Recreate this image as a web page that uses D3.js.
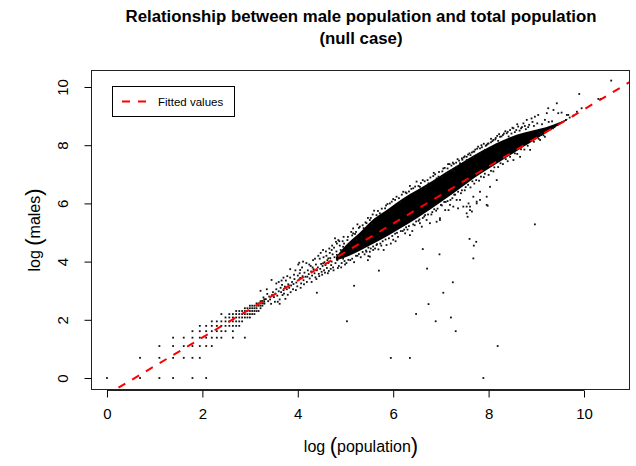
<!DOCTYPE html>
<html>
<head>
<meta charset="utf-8">
<script src="https://cdn.jsdelivr.net/npm/d3@7"></script>
<style>
  body { margin: 0; background: #fff; }
  text { font-family: "Liberation Sans", Arial, Helvetica, sans-serif; }
</style>
</head>
<body>
<div id="chart"></div>
<script>
// small places, read as whole counts: [population, males]
var smallCounts = [
  [1,1],[2,1],[2,2],[3,1],[3,2],[3,3],[4,1],[4,2],[4,3],[4,4],[5,2],[5,3],[5,4],
  [6,1],[6,2],[6,3],[6,4],[6,5],[7,2],[7,3],[7,4],[7,5],[7,6],
  [8,1],[8,3],[8,4],[8,5],[8,6],[9,3],[9,4],[9,5],[9,6],[9,7],
  [10,4],[10,5],[10,6],[10,7],[11,4],[11,5],[11,6],[11,7],[11,9],
  [12,5],[12,6],[12,7],[12,8],[13,6],[13,7],[13,8],[13,9],
  [14,4],[14,5],[14,6],[14,7],[14,8],[14,9],[15,6],[15,7],[15,8],[15,9],[15,10],
  [16,6],[16,7],[16,8],[16,9],[16,10],[17,7],[17,8],[17,9],[17,10],
  [18,4],[18,8],[18,9],[18,10],[18,11],[19,8],[19,9],[19,10],[19,11],
  [20,8],[20,9],[20,10],[20,11],[20,12],[21,9],[21,10],[21,11],[21,12],
  [22,9],[22,10],[22,11],[22,12],[23,10],[23,11],[23,12],[23,13],
  [24,10],[24,12],[24,13],[25,11],[25,12],[25,13],[25,14],[25,20],
  [26,12],[26,13],[26,14],[27,13],[27,14],[27,15]
];

// scattered places: [log(population), log(males)]
var scatterPoints = [
  // thin band
  [3.25,2.64],[3.28,2.77],[3.30,2.56],[3.33,2.71],[3.35,3.05],[3.36,2.89],[3.38,2.64],[3.40,2.80],
  [3.42,2.70],[3.44,2.55],[3.45,3.37],[3.46,2.85],[3.48,2.95],[3.50,2.78],[3.52,2.62],[3.53,2.90],
  [3.55,3.05],[3.55,3.25],[3.57,2.83],[3.58,2.62],[3.60,2.98],[3.60,3.30],[3.62,2.70],[3.62,2.55],
  [3.64,3.10],[3.65,2.95],[3.66,3.35],[3.67,3.20],[3.68,2.85],[3.70,3.02],[3.70,3.45],[3.71,2.90],
  [3.73,3.14],[3.74,2.72],[3.75,3.35],[3.77,3.05],[3.78,3.50],[3.79,2.86],[3.80,3.22],[3.82,3.10],
  [3.84,3.45],[3.84,3.74],[3.85,2.95],[3.86,3.18],[3.88,3.30],[3.90,3.05],[3.91,3.23],[3.92,3.55],
  [3.93,3.40],[3.95,3.70],[3.96,3.02],[3.97,3.28],[3.99,3.15],[4.00,3.52],[4.01,3.90],[4.02,3.38],
  [4.03,3.96],[4.04,3.60],[4.05,3.44],[4.05,3.71],[4.06,3.10],[4.07,3.25],[4.09,3.80],[4.10,3.50],
  [4.11,4.00],[4.12,3.36],[4.13,3.22],[4.14,3.62],[4.16,3.48],[4.18,3.95],[4.19,3.30],[4.20,3.48],
  [4.21,3.70],[4.23,3.57],[4.24,3.90],[4.25,3.42],[4.27,3.85],[4.28,3.66],[4.29,3.30],[4.30,3.52],
  [4.31,3.80],[4.32,4.05],[4.33,3.74],[4.35,3.60],[4.36,4.10],[4.37,3.46],[4.38,3.90],[4.39,3.40],
  [4.40,3.70],[4.40,2.93],[4.42,3.80],[4.43,4.20],[4.44,3.58],[4.45,3.50],[4.46,4.10],[4.47,3.75],
  [4.48,4.30],[4.49,3.92],[4.50,3.65],[4.51,3.55],[4.52,3.85],[4.53,4.40],[4.53,3.94],[4.54,4.15],
  [4.55,3.70],[4.56,3.98],[4.57,3.62],[4.58,3.88],[4.59,4.35],[4.60,4.20],[4.61,3.78],[4.62,4.05],
  [4.63,3.60],[4.64,3.95],[4.64,4.11],[4.65,3.68],[4.66,4.45],[4.67,4.30],[4.68,4.12],[4.69,3.75],
  [4.70,3.88],[4.71,4.00],[4.71,4.40],[4.72,4.55],[4.73,4.25],[4.74,3.80],[4.75,3.70],[4.76,4.48],
  [4.77,4.15],[4.78,4.80],[4.79,3.95],[4.80,4.68],[4.81,4.35],[4.82,4.62],[4.82,4.23],[4.83,4.05],
  [4.84,3.78],[4.85,4.22],[4.85,4.74],[4.86,3.85],[4.87,4.70],[4.88,4.55],[4.90,4.40],[4.91,3.80],
  [4.92,3.95],[4.94,4.70],[4.95,4.10],[4.95,4.51],[4.96,4.85],[4.97,4.62],[4.98,4.02],[4.99,3.90],
  // around the dense cloud
  [5.02,3.95],[5.04,4.74],[5.05,4.85],[5.06,4.06],[5.09,4.63],[5.10,4.05],[5.12,5.02],[5.14,4.90],
  [5.14,4.10],[5.16,5.14],[5.16,4.97],[5.18,3.98],[5.20,4.95],[5.22,5.02],[5.22,4.20],[5.23,4.74],
  [5.25,5.28],[5.25,4.20],[5.28,5.16],[5.28,4.26],[5.30,5.20],[5.32,4.15],[5.34,4.86],[5.36,5.25],
  [5.36,4.33],[5.38,5.15],[5.40,4.25],[5.42,5.35],[5.43,4.38],[5.44,5.32],[5.44,4.34],[5.47,5.50],
  [5.47,4.05],[5.48,4.19],[5.48,4.48],[5.51,5.43],[5.51,4.17],[5.51,4.34],[5.53,5.50],[5.53,4.45],
  [5.55,5.30],[5.57,5.62],[5.58,4.40],[5.58,4.52],[5.60,5.75],[5.62,4.45],[5.65,5.60],[5.65,4.57],
  [5.66,4.60],[5.68,5.74],[5.69,4.42],[5.72,5.66],[5.73,4.62],[5.75,4.55],[5.76,5.82],[5.78,4.70],
  [5.80,4.40],[5.83,5.83],[5.84,4.76],[5.85,5.93],[5.86,4.57],[5.88,5.98],[5.91,4.80],[5.93,6.00],
  [5.95,4.62],[5.97,6.06],[5.98,4.88],[6.00,6.15],[6.00,4.75],[6.04,6.12],[6.04,4.96],[6.05,4.70],
  [6.07,6.23],[6.08,4.99],[6.10,4.85],[6.12,6.18],[6.15,6.05],[6.16,5.05],[6.18,6.30],[6.20,5.05],
  [6.21,6.40],[6.23,5.10],[6.25,4.97],[6.26,6.38],[6.27,5.18],[6.28,6.35],[6.30,5.10],[6.33,6.41],
  [6.33,5.22],[6.35,6.60],[6.35,4.91],[6.38,6.50],[6.40,5.05],[6.42,6.52],[6.42,5.28],[6.45,5.25],
  [6.46,6.58],[6.48,5.38],[6.49,6.75],[6.53,6.60],[6.53,5.40],[6.55,5.45],[6.56,6.57],[6.56,5.32],
  [6.58,6.70],[6.60,5.20],[6.62,6.80],[6.62,5.50],[6.65,5.55],[6.66,6.76],[6.67,5.60],[6.68,6.55],
  [6.70,5.43],[6.72,6.80],[6.73,5.62],[6.74,6.69],[6.77,5.32],[6.78,6.89],[6.80,5.62],[6.82,5.70],
  [6.84,6.94],[6.85,7.05],[6.86,5.80],[6.88,7.00],[6.90,5.75],[6.91,6.86],[6.91,5.37],[6.93,5.82],
  [6.95,6.92],[6.96,7.08],[6.98,5.43],[6.98,5.49],[7.00,5.95],[7.02,6.92],[7.02,5.93],[7.03,7.10],
  [7.05,7.20],[7.07,6.05],[7.08,7.22],[7.09,5.77],[7.10,6.05],[7.12,7.03],[7.14,7.20],[7.14,6.08],
  [7.15,7.35],[7.16,5.77],[7.18,7.35],[7.19,5.95],[7.20,6.12],[7.22,7.30],[7.23,7.15],[7.24,6.18],
  [7.25,7.40],[7.26,5.89],[7.27,7.36],[7.28,7.10],[7.28,6.30],[7.30,6.30],[7.32,7.40],[7.33,7.26],
  [7.33,6.12],[7.35,7.52],[7.36,5.83],[7.36,6.40],[7.38,7.47],[7.40,7.38],[7.40,6.12],[7.42,6.35],
  [7.44,7.55],[7.44,6.45],[7.45,7.50],[7.47,5.89],[7.48,7.58],[7.50,7.62],[7.50,6.45],[7.52,6.56],
  [7.54,7.49],[7.54,7.60],[7.54,5.66],[7.54,5.89],[7.56,5.54],[7.57,7.68],[7.57,6.64],[7.58,6.00],
  [7.60,7.72],[7.61,5.77],[7.61,5.89],[7.62,7.66],[7.62,6.55],[7.65,7.75],[7.65,5.72],[7.66,6.76],
  [7.68,7.60],[7.68,7.78],[7.68,6.23],[7.70,7.78],[7.70,6.68],[7.72,7.85],[7.74,6.80],[7.75,6.00],
  [7.75,6.06],[7.76,7.88],[7.78,7.95],[7.80,6.78],[7.82,7.72],[7.82,7.89],[7.82,6.12],[7.82,6.40],
  [7.84,6.92],[7.85,8.00],[7.86,7.93],[7.90,8.05],[7.90,6.90],[7.92,7.84],[7.92,7.02],[7.94,7.98],
  [7.96,8.01],[7.96,5.95],[7.96,6.23],[7.98,8.05],[8.00,8.06],[8.00,6.98],[8.03,6.57],[8.05,8.10],
  [8.05,8.22],[8.05,7.12],[8.08,8.14],[8.10,8.18],[8.10,7.10],[8.12,7.24],[8.14,8.20],[8.15,8.25],
  [8.17,6.80],[8.18,8.32],[8.20,8.15],[8.20,7.25],[8.22,8.38],[8.24,8.29],[8.25,7.38],[8.27,8.30],
  [8.30,8.35],[8.30,7.35],[8.32,8.40],[8.35,8.48],[8.36,7.52],[8.38,8.41],[8.40,8.46],[8.40,7.45],
  [8.42,8.30],[8.45,8.52],[8.45,7.60],[8.48,8.40],[8.50,8.60],[8.52,8.58],[8.52,7.49],[8.55,8.45],
  [8.55,7.72],[8.58,8.52],[8.60,8.72],[8.60,7.70],[8.62,8.64],[8.65,8.50],[8.66,7.60],[8.68,8.58],
  [8.68,7.86],[8.70,8.62],[8.73,8.75],[8.75,7.85],[8.76,8.66],[8.78,8.55],[8.80,8.87],[8.82,7.98],
  [8.83,8.62],[8.85,8.70],[8.87,7.84],[8.90,8.92],[8.92,8.80],[8.95,8.66],[8.95,8.12],[8.97,8.98],
  [9.02,8.75],[9.04,9.04],[9.05,8.22],[9.08,8.18],[9.08,8.41],[9.10,8.35],[9.12,8.72],[9.15,8.34],
  // upper tail
  [9.18,8.87],[9.18,8.29],[9.20,8.45],[9.22,9.10],[9.25,9.27],[9.26,8.80],[9.30,8.55],[9.33,8.82],
  [9.35,8.58],[9.36,9.21],[9.38,8.62],[9.43,9.44],[9.45,8.70],[9.46,9.10],[9.53,9.12],[9.55,8.80],
  [9.62,8.87],[9.64,9.04],[9.67,9.04],[9.70,8.95],[9.78,9.02],[9.85,9.15],[9.90,9.76],[9.95,9.27],
  [10.30,9.59],[10.35,9.59],[10.57,10.22],
  // outliers below the cloud
  [7.98,5.92],[8.97,5.28],[7.60,4.78],[7.74,4.68],[7.69,4.55],[7.68,4.11],[6.62,4.43],[6.97,4.25],
  [5.70,3.69],[6.71,3.76],[7.25,3.29],[7.05,2.93],[6.74,2.54],[6.48,2.20],[7.21,2.08],[6.89,1.95],
  [7.31,1.61],[8.19,1.10],[5.95,0.69],[6.35,0.69],[7.89,0.00],[5.03,1.95],[5.18,3.17]
];

// solid black part of the cloud: log(population) with lower and upper log(males)
var coreLogPop = [4.8, 5.0, 5.3, 5.6, 5.9, 6.2, 6.5, 6.8, 7.1, 7.4, 7.7, 8.0, 8.3, 8.6, 8.9, 9.2, 9.5, 9.65];
var coreLow    = [4.04, 4.15, 4.37, 4.63, 4.90, 5.19, 5.49, 5.82, 6.16, 6.51, 6.87, 7.19, 7.50, 7.81, 8.11, 8.42, 8.72, 8.87];
var coreHigh   = [4.16, 4.55, 5.00, 5.48, 5.82, 6.17, 6.46, 6.75, 7.07, 7.36, 7.66, 7.93, 8.17, 8.37, 8.50, 8.62, 8.80, 8.91];

// fitted values
var fitIntercept = -0.57, fitSlope = 0.98;

var xTicks = [0, 2, 4, 6, 8, 10];
var yTicks = [0, 2, 4, 6, 8, 10];

var width = 636, height = 466;
var box = {left: 91, right: 630, top: 70, bottom: 390};

var svg = d3.select("#chart")
  .append("svg")
    .attr("width", width)
    .attr("height", height);

var x = d3.scaleLinear().domain([-0.335, 10.964]).range([box.left, box.right]);
var y = d3.scaleLinear().domain([-0.412, 10.584]).range([box.bottom, box.top]);

svg.append("clipPath").attr("id", "plotclip")
  .append("rect")
    .attr("x", box.left).attr("y", box.top)
    .attr("width", box.right - box.left).attr("height", box.bottom - box.top);

var plot = svg.append("g").attr("clip-path", "url(#plotclip)");

// dense core
var core = coreLogPop.map(function(v, i) { return [v, coreLow[i], coreHigh[i]]; });
plot.append("path")
  .datum(core)
  .attr("d", d3.area()
    .x(function(d) { return x(d[0]); })
    .y0(function(d) { return y(d[1]); })
    .y1(function(d) { return y(d[2]); })
    .curve(d3.curveMonotoneX))
  .style("fill", "#000");

// points
var pts = smallCounts.map(function(d) { return [Math.log(d[0]), Math.log(d[1])]; })
  .concat(scatterPoints);
var s = 1.8;
plot.selectAll("rect.pt")
  .data(pts)
  .enter()
  .append("rect")
    .attr("class", "pt")
    .attr("x", function(d) { return x(d[0]) - s / 2; })
    .attr("y", function(d) { return y(d[1]) - s / 2; })
    .attr("width", s)
    .attr("height", s)
    .style("fill", "#111");

// fitted line
var xd = x.domain();
plot.append("path")
  .datum(xd)
  .attr("d", d3.line()
    .x(function(d) { return x(d); })
    .y(function(d) { return y(fitIntercept + fitSlope * d); }))
  .style("fill", "none")
  .style("stroke", "#ff0000")
  .style("stroke-width", 2)
  .style("stroke-dasharray", "8,8");

// box
svg.append("rect")
  .attr("x", box.left + 0.5).attr("y", box.top + 0.5)
  .attr("width", box.right - box.left - 1).attr("height", box.bottom - box.top - 1)
  .style("fill", "none")
  .style("stroke", "#222")
  .style("stroke-width", 1);

// axes
var xAxis = svg.append("g")
  .attr("transform", "translate(0," + (box.bottom + 0.5) + ")")
  .call(d3.axisBottom(x).tickValues(xTicks).tickSize(7).tickPadding(11).tickSizeOuter(0));
xAxis.select(".domain").attr("d", "M" + x(0) + ",0H" + x(10)).style("stroke", "#222");
xAxis.selectAll("text").style("font-size", "15px").style("fill", "#000");

var yAxis = svg.append("g")
  .attr("transform", "translate(" + (box.left + 0.5) + ",0)")
  .call(d3.axisLeft(y).tickValues(yTicks).tickSize(7).tickSizeOuter(0));
yAxis.select(".domain").attr("d", "M0," + y(0) + "V" + y(10)).style("stroke", "#222");
yAxis.selectAll("text")
  .attr("x", null).attr("dy", null)
  .attr("transform", "translate(-24,0) rotate(-90)")
  .attr("text-anchor", "middle")
  .style("font-size", "15px").style("fill", "#000");

// title
svg.append("text")
  .attr("x", 361).attr("y", 22)
  .attr("text-anchor", "middle")
  .style("font-size", "16.8px").style("font-weight", "bold")
  .text("Relationship between male population and total population");
svg.append("text")
  .attr("x", 361).attr("y", 44)
  .attr("text-anchor", "middle")
  .style("font-size", "16.8px").style("font-weight", "bold")
  .text("(null case)");

// axis titles with tall brackets
function bracketLabel(g, word) {
  var t = g.append("text").attr("text-anchor", "middle").style("font-size", "16px");
  t.append("tspan").text("log ");
  t.append("tspan").style("font-size", "22px").attr("dy", 1).text("(");
  t.append("tspan").attr("dy", -1).text(word);
  t.append("tspan").style("font-size", "22px").attr("dy", 1).text(")");
  return t;
}
bracketLabel(svg.append("g").attr("transform", "translate(361,452)"), "population");
bracketLabel(svg.append("g").attr("transform", "translate(40,230) rotate(-90)"), "males");

// legend
var legend = svg.append("g");
legend.append("rect")
  .attr("x", 112.5).attr("y", 86.5).attr("width", 122).attr("height", 30)
  .style("fill", "#fff").style("stroke", "#000");
legend.append("line")
  .attr("x1", 122).attr("x2", 147).attr("y1", 101.5).attr("y2", 101.5)
  .style("stroke", "#ff0000").style("stroke-width", 2).style("stroke-dasharray", "8,8");
legend.append("text")
  .attr("x", 158).attr("y", 105.5)
  .style("font-size", "11.5px")
  .text("Fitted values");
</script>
</body>
</html>
